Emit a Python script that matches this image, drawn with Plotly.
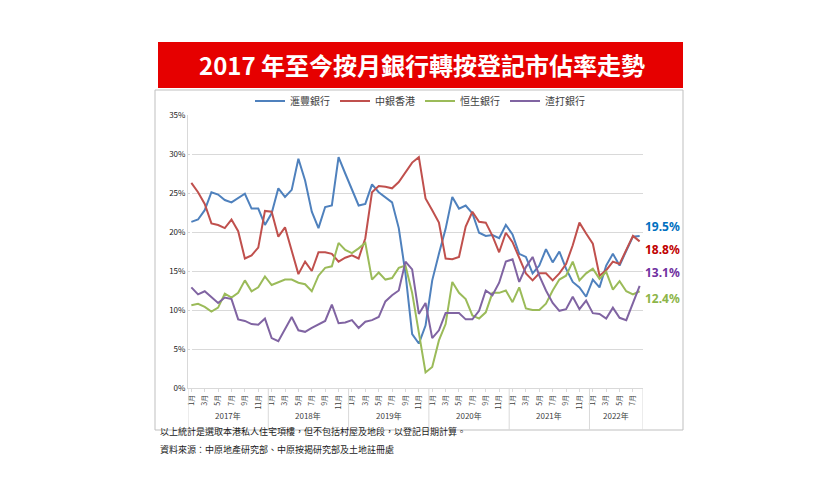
import plotly.graph_objects as go

hsbc = [21.3, 21.6, 22.8, 25.1, 24.8, 24.1, 23.8, 24.4, 24.9, 23.0, 23.0, 20.9,
        22.4, 25.6, 24.5, 25.4, 29.4, 26.6, 22.6, 20.5, 23.2, 23.4, 29.6, 27.5,
        25.4, 23.4, 23.6, 26.1, 25.1, 24.5, 23.8, 20.5, 14.7, 6.9, 5.7, 8.0,
        13.8, 17.2, 20.4, 24.5, 23.0, 23.4, 22.4, 19.9, 19.5, 19.6, 19.2, 20.9,
        19.7, 17.2, 16.8, 14.7, 15.7, 17.8, 16.1, 17.5, 15.3, 13.6, 12.9, 11.7,
        13.9, 12.9, 15.7, 17.2, 15.7, 17.6, 19.4, 19.5]
boc = [26.3, 25.1, 23.6, 21.1, 20.9, 20.5, 21.6, 20.1, 16.6, 17.0, 18.0, 22.7,
       22.6, 19.4, 20.6, 17.7, 14.6, 16.2, 15.0, 17.4, 17.4, 17.2, 16.2, 16.7,
       17.0, 16.6, 19.2, 25.1, 25.9, 25.8, 25.6, 26.4, 27.7, 28.9, 29.6, 24.3,
       22.8, 21.2, 16.6, 16.5, 16.8, 20.7, 22.6, 21.3, 21.2, 19.5, 17.4, 19.9,
       18.7, 16.8, 14.7, 13.8, 14.7, 14.7, 13.8, 14.7, 15.9, 18.3, 21.2, 19.8,
       18.5, 14.4, 15.1, 16.2, 15.9, 17.7, 19.5, 18.8]
hangseng = [10.6, 10.8, 10.4, 9.8, 10.3, 12.1, 11.6, 12.2, 13.8, 12.4, 12.9, 14.3,
            13.2, 13.5, 13.9, 13.9, 13.5, 13.3, 12.4, 14.4, 15.4, 15.6, 18.6, 17.7,
            17.3, 17.9, 18.6, 13.9, 14.8, 13.9, 14.1, 15.4, 15.7, 12.2, 6.9, 2.0,
            2.7, 6.1, 8.2, 13.6, 12.2, 11.4, 9.3, 8.9, 9.7, 12.2, 12.2, 12.5,
            11.0, 12.9, 10.2, 10.0, 10.0, 10.8, 12.5, 13.9, 14.4, 16.2, 13.8, 14.7,
            15.3, 14.0, 14.9, 12.6, 13.7, 12.4, 12.0, 12.4]
stanchart = [12.9, 12.0, 12.4, 11.7, 10.9, 11.6, 11.4, 8.8, 8.6, 8.2, 8.1, 8.9,
             6.4, 6.0, 7.5, 9.1, 7.4, 7.2, 7.7, 8.1, 8.6, 10.7, 8.3, 8.4,
             8.7, 7.7, 8.5, 8.7, 9.1, 11.1, 11.9, 12.5, 16.2, 15.2, 9.5, 10.9,
             6.4, 7.4, 9.6, 9.6, 9.6, 8.8, 8.8, 9.9, 12.5, 11.9, 13.5, 16.2,
             16.5, 13.6, 15.5, 16.8, 14.4, 12.5, 10.9, 9.9, 10.1, 11.7, 10.1, 11.2,
             9.6, 9.5, 8.9, 10.3, 9.0, 8.7, 10.8, 13.1]
years = ["2017年", "2018年", "2019年", "2020年", "2021年", "2022年"]
end_labels = ["19.5%", "18.8%", "13.1%", "12.4%"]

months = list(range(len(hsbc)))
tickvals = [m for m in months if m % 2 == 0]
ticktext = [f"{m % 12 + 1}月" for m in tickvals]

# page has an 8px body margin; work in reference pixels and shift
OFF = 8
W, H = 840 - 2 * OFF, 500 - 2 * OFF
L, R, T, B = 188, 643, 115, 388
def px(x):
    return (x - L) / (R - L)
def py(y):
    return (B - y) / (B - T)

fig = go.Figure()
series = [("滙豐銀行", hsbc, "#4f81bd"), ("中銀香港", boc, "#c0504d"),
          ("恒生銀行", hangseng, "#9bbb59"), ("渣打銀行", stanchart, "#8064a2")]
for name, vals, col in series:
    fig.add_trace(go.Scatter(x=months, y=vals, mode="lines", name=name,
                             line=dict(color=col, width=2)))

shapes = [
    dict(type="rect", xref="paper", yref="paper", x0=px(155), x1=px(683), y0=py(430), y1=py(90),
         line=dict(color="#bfbfbf", width=1), layer="below"),
    dict(type="rect", xref="paper", yref="paper", x0=px(158), x1=px(683), y0=py(88), y1=py(42),
         fillcolor="#e60000", line=dict(width=0)),
]
for i in range(len(years) + 1):
    xv = min(i * 12 - 0.5, len(hsbc) - 0.5)
    shapes.append(dict(type="line", xref="x", yref="paper", x0=xv, x1=xv, y0=0, y1=py(430),
                       line=dict(color="#d9d9d9", width=1)))

ann = [dict(text="<b>2017 年至今按月銀行轉按登記市佔率走勢</b>", xref="paper", yref="paper",
            x=px(422), y=py(64), xanchor="center", yanchor="middle", showarrow=False,
            font=dict(size=24, color="white", family="Noto Sans CJK TC"))]
for i, yr in enumerate(years):
    end = min(i * 12 + 11, len(hsbc) - 1)
    ann.append(dict(text=yr, xref="x", yref="paper", x=(i * 12 + end) / 2, y=py(423),
                    showarrow=False, font=dict(size=8, color="#404040")))
label_cols = ["#0070c0", "#c00000", "#7030a0", "#8db548"]
label_y = [226, 249, 272, 298]
for t, c, yy in zip(end_labels, label_cols, label_y):
    ann.append(dict(text=f"<b>{t}</b>", xref="paper", yref="paper", x=px(643), y=py(yy),
                    xanchor="left", yanchor="middle", showarrow=False,
                    font=dict(size=12, color=c, family="Noto Sans")))
ann.append(dict(text="以上統計是選取本港私人住宅項樓，但不包括村屋及地段，以登記日期計算。",
                xref="paper", yref="paper", x=px(158), y=py(440), xanchor="left",
                showarrow=False, font=dict(size=9, color="#222")))
ann.append(dict(text="資料來源：中原地產研究部、中原按揭研究部及土地註冊處",
                xref="paper", yref="paper", x=px(158), y=py(458), xanchor="left",
                showarrow=False, font=dict(size=9, color="#222")))

fig.update_layout(
    width=W, height=H, plot_bgcolor="white", paper_bgcolor="white",
    margin=dict(l=L - OFF, r=W - (R - OFF), t=T - OFF, b=H - (B - OFF)),
    font=dict(family="Noto Sans CJK TC", color="#404040"),
    legend=dict(orientation="h", x=px(420), xanchor="center", y=py(101), yanchor="middle",
                font=dict(size=10, color="#404040"), bgcolor="rgba(0,0,0,0)"),
    shapes=shapes, annotations=ann,
)
fig.update_xaxes(range=[-0.5, len(hsbc) - 0.5], tickvals=tickvals, ticktext=ticktext,
                 tickangle=-90, tickfont=dict(size=7), showgrid=False,
                 showline=True, linecolor="#d9d9d9", ticks="outside", ticklen=3, tickcolor="#d9d9d9")
fig.update_yaxes(range=[0, 35], dtick=5, ticksuffix="%", tickfont=dict(size=8, color="#222"),
                 gridcolor="#d9d9d9", zeroline=False, showline=True, linecolor="#d9d9d9")

fig.write_html("out.html")
